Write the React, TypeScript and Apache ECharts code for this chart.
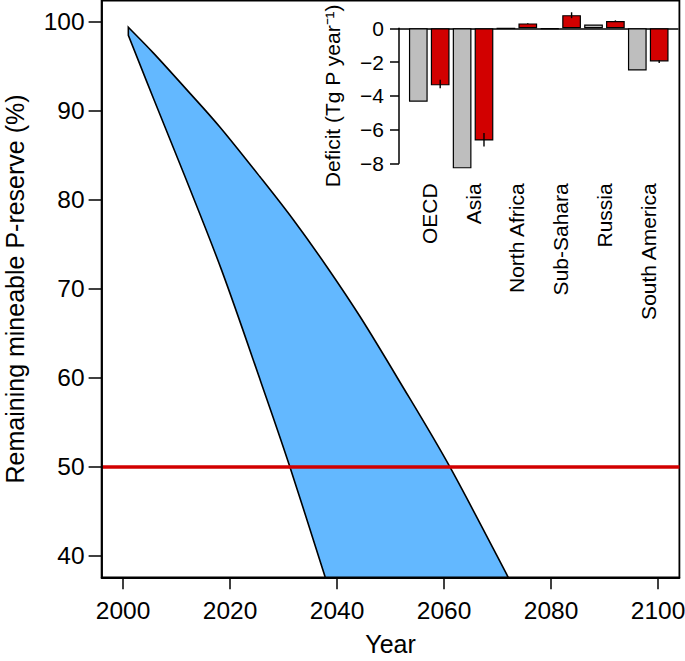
import React, { useEffect, useRef } from "react";
import * as echarts from "echarts";

// ---- Main panel data ----
const upperYears = [2001.0, 2005.7, 2011.9, 2018.1, 2025.6, 2031.8, 2038.1, 2044.3, 2051.5, 2061.1, 2072.0];
const upperValues = [99.4, 96.5, 92.4, 88.2, 82.6, 77.8, 72.5, 66.9, 59.8, 50.0, 37.6];
const lowerYears = [2001.0, 2005.7, 2011.6, 2018.5, 2025.8, 2031.2, 2037.8];
const lowerValues = [98.5, 91.4, 82.6, 72.0, 59.5, 50.0, 37.6];
const thresholdValue = 50;
const xTicks = [2000, 2020, 2040, 2060, 2080, 2100];
const yTicks = [40, 50, 60, 70, 80, 90, 100];

// ---- Inset data ----
const regions = ["OECD", "Asia", "North Africa", "Sub-Sahara", "Russia", "South America"];
const greyDeficit = [-4.35, -8.3, 0.0, -0.03, 0.22, -2.5];
const redDeficit = [-3.38, -6.65, 0.29, 0.78, 0.43, -1.96];
const redErrLow = [-3.55, -7.0, 0.27, 0.6, 0.4, -2.05];
const redErrHigh = [-3.05, -6.2, 0.31, 0.95, 0.47, -1.9];
const insetTicks = [0, -2, -4, -6, -8];

const FONT = "Liberation Sans, Arial, Helvetica, sans-serif";
const RED = "#D20000";
const BAR_W = 18.7;
const BAR_GAP = 0.17;

// Catmull-Rom curve through pixel points (rendering only)
function curveThrough(ctx: any, pts: number[][], moveFirst: boolean) {
  if (moveFirst) ctx.moveTo(pts[0][0], pts[0][1]);
  else ctx.lineTo(pts[0][0], pts[0][1]);
  for (let i = 0; i < pts.length - 1; i++) {
    const p0 = pts[Math.max(0, i - 1)];
    const p1 = pts[i];
    const p2 = pts[i + 1];
    const p3 = pts[Math.min(pts.length - 1, i + 2)];
    ctx.bezierCurveTo(
      p1[0] + (p2[0] - p0[0]) / 6, p1[1] + (p2[1] - p0[1]) / 6,
      p2[0] - (p3[0] - p1[0]) / 6, p2[1] - (p3[1] - p1[1]) / 6,
      p2[0], p2[1]
    );
  }
}

let registered = false;
function registerBand() {
  if (registered) return;
  registered = true;
  const Band = (echarts.graphic as any).extendShape({
    shape: { up: [] as number[][], lo: [] as number[][] },
    buildPath(ctx: any, shape: any) {
      const up = shape.up;
      const lo = shape.lo;
      if (!up || !lo || !up.length || !lo.length) return;
      curveThrough(ctx, up, true);
      curveThrough(ctx, lo.slice().reverse(), false);
      ctx.closePath();
    },
  });
  echarts.graphic.registerShape("reserveBand", Band);
}

export default function App() {
  const ref = useRef<HTMLDivElement>(null);
  useEffect(() => {
    if (!ref.current) return;
    registerBand();
    const chart = echarts.init(ref.current, null, { renderer: "svg" });
    const upperPts = upperYears.map((y, i) => [y, upperValues[i]]);
    const lowerPts = lowerYears.map((y, i) => [y, lowerValues[i]]);
    const minus = (v: number) => (v < 0 ? "\u2212" + Math.abs(v) : String(v));
    const option: any = {
      animation: false,
      backgroundColor: "#fff",
      textStyle: { fontFamily: FONT, color: "#000" },
      grid: [
        { left: 101.6, top: 0.6, width: 577.8, height: 576.7, show: true, borderColor: "#000", borderWidth: 1.8, backgroundColor: "transparent", outerBoundsMode: "none", containLabel: false },
        { left: 399, top: 28.3, width: 279, height: 135, outerBoundsMode: "none", containLabel: false },
        { left: 407.35, top: 28.3, width: 262.8, height: 135, outerBoundsMode: "none", containLabel: false },
      ],
      xAxis: [
        {
          gridIndex: 0, type: "value", min: 1996, max: 2104, z: 10,
          axisLine: { show: true, lineStyle: { color: "#000", width: 1.8 } },
          axisTick: { show: true, customValues: xTicks, length: 12, lineStyle: { color: "#000", width: 1.5 } },
          axisLabel: { customValues: xTicks, fontSize: 24.5, color: "#000", fontFamily: FONT, margin: 21, formatter: (v: number) => String(v) },
          splitLine: { show: false },
          name: "Year", nameLocation: "middle", nameGap: 54,
          nameTextStyle: { fontSize: 25, color: "#000", fontFamily: FONT },
        },
        {
          gridIndex: 1, type: "value", min: 0, max: 1, position: "top",
          axisLine: { show: true, onZero: false, lineStyle: { color: "#000", width: 1.5 } },
          axisTick: { show: false }, axisLabel: { show: false }, splitLine: { show: false },
        },
        {
          gridIndex: 2, type: "category", data: regions, position: "bottom",
          axisLine: { show: false }, axisTick: { show: false }, splitLine: { show: false },
          axisLabel: { rotate: 90, fontSize: 21, color: "#000", fontFamily: FONT, margin: 20, interval: 0 },
        },
      ],
      yAxis: [
        {
          gridIndex: 0, type: "value", min: 37.6, max: 102.4, z: 10,
          axisLine: { show: true, lineStyle: { color: "#000", width: 1.8 } },
          axisTick: { show: true, customValues: yTicks, length: 13, lineStyle: { color: "#000", width: 1.5 } },
          axisLabel: { customValues: yTicks, fontSize: 24.5, color: "#000", fontFamily: FONT, margin: 17 },
          splitLine: { show: false },
          name: "Remaining mineable P-reserve (%)", nameLocation: "middle", nameGap: 74,
          nameTextStyle: { fontSize: 25, color: "#000", fontFamily: FONT },
        },
        {
          gridIndex: 1, type: "value", min: -8, max: 0,
          axisLine: { show: true, lineStyle: { color: "#000", width: 1.5 } },
          axisTick: { show: true, customValues: insetTicks, length: 9, lineStyle: { color: "#000", width: 1.5 } },
          axisLabel: { customValues: insetTicks, fontSize: 21, color: "#000", fontFamily: FONT, margin: 15, formatter: minus },
          splitLine: { show: false },
          name: "Deficit (Tg P year\u207B\u00B9)", nameLocation: "middle", nameGap: 56,
          nameTextStyle: { fontSize: 21, color: "#000", fontFamily: FONT },
        },
        { gridIndex: 2, type: "value", min: -8, max: 0, show: false },
      ],
      series: [
        {
          type: "custom", xAxisIndex: 0, yAxisIndex: 0, clip: true, z: 2,
          data: [[upperYears[0], upperValues[0]]],
          renderItem: (_params: any, api: any) => ({
            type: "reserveBand",
            shape: {
              up: upperPts.map((p) => api.coord(p)),
              lo: lowerPts.map((p) => api.coord(p)),
            },
            style: { fill: "#63B8FF", stroke: "#000", lineWidth: 1.6 },
          }),
        },
        {
          type: "line", xAxisIndex: 0, yAxisIndex: 0, data: [], z: 5,
          markLine: {
            silent: true, symbol: "none", label: { show: false },
            lineStyle: { color: RED, width: 3.5, type: "solid" },
            data: [{ yAxis: thresholdValue }],
          },
        },
        {
          type: "bar", xAxisIndex: 2, yAxisIndex: 2, data: greyDeficit, clip: false,
          barWidth: BAR_W, barGap: BAR_GAP * 100 + "%",
          itemStyle: { color: "#BEBEBE", borderColor: "#000", borderWidth: 1.2 },
        },
        {
          type: "bar", xAxisIndex: 2, yAxisIndex: 2, data: redDeficit, clip: false,
          barWidth: BAR_W, barGap: BAR_GAP * 100 + "%",
          itemStyle: { color: RED, borderColor: "#000", borderWidth: 1.2 },
        },
        {
          type: "custom", xAxisIndex: 2, yAxisIndex: 2, clip: false, z: 5,
          data: redErrLow.map((lo, i) => [i, lo, redErrHigh[i]]),
          renderItem: (_params: any, api: any) => {
            const off = (BAR_W * (1 + BAR_GAP)) / 2;
            const a = api.coord([api.value(0), api.value(1)]);
            const b = api.coord([api.value(0), api.value(2)]);
            return {
              type: "line",
              shape: { x1: a[0] + off, y1: a[1], x2: b[0] + off, y2: b[1] },
              style: { stroke: "#000", lineWidth: 1.4 },
            };
          },
        },
      ],
    };
    chart.setOption(option);
    return () => chart.dispose();
  }, []);
  return (
    <div
      ref={ref}
      style={{ position: "absolute", left: 0, top: 0, width: 685, height: 661, background: "#fff" }}
    />
  );
}
